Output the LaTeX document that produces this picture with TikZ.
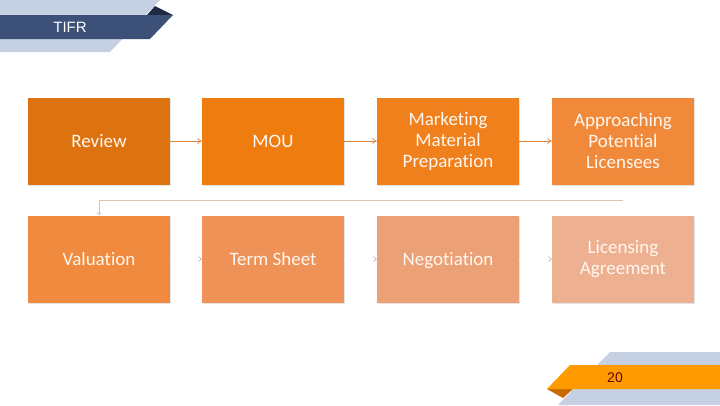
\documentclass[tikz,border=0pt]{standalone}
\usepackage{fontspec}
\setmainfont[Ligatures=NoCommon]{Carlito}
\newfontfamily\arialfont{Liberation Sans}
\usetikzlibrary{arrows.meta,shadows}

\definecolor{bandblue}{HTML}{C5D0E3}
\definecolor{banddark}{HTML}{3D5078}
\definecolor{foldblue}{HTML}{1F2A42}
\definecolor{pageorange}{HTML}{FF9A00}
\definecolor{foldorange}{HTML}{C96A00}
\definecolor{numred}{HTML}{5A0A00}
\definecolor{linkorange}{HTML}{E0843A}
\definecolor{linktan}{HTML}{DDC4AC}

\begin{document}
\begin{tikzpicture}[
x=1pt, y=-1pt,
box/.style={
rectangle,
align=center,
minimum width=142pt,
minimum height=87pt,
text=white!94!orange,
font=\fontsize{19}{21}\selectfont,
drop shadow={opacity=0.22, shadow xshift=1pt, shadow yshift=-1.5pt}
},
oneline/.style={text height=12pt, text depth=0pt},
link/.style={-{To[length=4.5pt,width=6pt]}, linkorange, line width=0.7pt},
hint/.style={-{Straight Barb[length=3pt,width=5pt,color=gray!70]}, white, line width=0.5pt}
]
\useasboundingbox (0,0) rectangle (720,405);

% header band
\fill[bandblue] (0,0) -- (160,0) -- (110,52) -- (0,52) -- cycle;
\fill[foldblue] (147,15) -- (155,6) -- (173,15) -- cycle;
\fill[banddark] (0,15) -- (173,15) -- (150,39) -- (0,39) -- cycle;
\node[text=white, font=\arialfont\fontsize{15}{17}\selectfont] (title) at (70,27) {TIFR};

% page number band
\fill[bandblue] (610,352) -- (720,352) -- (720,405) -- (558,405) -- cycle;
\fill[foldorange] (547,389) -- (573,389) -- (563,398) -- cycle;
\fill[pageorange] (570,365) -- (720,365) -- (720,389) -- (547,389) -- cycle;
\node[text=numred, font=\arialfont\fontsize{14}{16}\selectfont] (page) at (615,378) {20};

% first row
\node[box, oneline, fill={rgb,255:red,221;green,115;blue,16}] (R) at (99,141) {Review};
\node[box, oneline, fill={rgb,255:red,238;green,124;blue,14}] (M) at (273,141) {MOU};
\node[box, fill={rgb,255:red,240;green,128;blue,28}] (Mk) at (448,141) {Marketing\\Material\\Preparation};
\node[box, fill={rgb,255:red,240;green,138;blue,58}] (A) at (623,141) {Approaching\\Potential\\Licensees};

% second row
\node[box, oneline, fill={rgb,255:red,239;green,138;blue,62}] (V) at (99,259) {Valuation};
\node[box, oneline, fill={rgb,255:red,238;green,146;blue,88}] (T) at (273,259) {Term Sheet};
\node[box, oneline, fill={rgb,255:red,236;green,160;blue,118}] (N) at (448,259) {Negotiation};
\node[box, fill={rgb,255:red,237;green,176;blue,144}] (L) at (623,259) {Licensing\\Agreement};

\draw[link] (R) -- (M);
\draw[link] (M) -- (Mk);
\draw[link] (Mk) -- (A);

\coordinate (turn) at (623,200);
\draw[-{To[length=3.5pt,width=5pt]}, linktan, line width=0.7pt] (turn) -| (V.north);

\draw[hint] (V) -- (T);
\draw[hint] (T) -- (N);
\draw[hint] (N) -- (L);

\end{tikzpicture}
\end{document}
